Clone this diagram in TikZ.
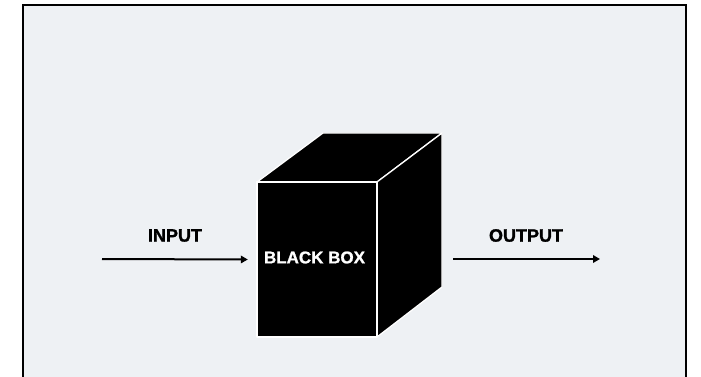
\documentclass[tikz,border=0pt]{standalone}
\usepackage{fontspec}
\setmainfont{Liberation Sans}
\newfontfamily\heavyfont[FakeBold=1.2]{Liberation Sans Bold}
\usetikzlibrary{arrows.meta}
\definecolor{bgpanel}{HTML}{EEF1F4}
\tikzset{
  lbl/.style={font=\heavyfont\fontsize{18}{20}\selectfont, text=black, inner sep=0pt},
  boxlbl/.style={font=\heavyfont\fontsize{17}{19}\selectfont, text=white, inner sep=0pt},
  face/.style={fill=black, draw=white, line width=1.3pt, line join=round},
  flow/.style={line width=2pt, -{Triangle[length=7pt,width=7.5pt]}}
}
\begin{document}
\begin{tikzpicture}[x=1pt,y=-1pt]
\useasboundingbox (0,0) rectangle (701,377);
\fill[white] (0,0) rectangle (701,377);
\fill[bgpanel] (23,5) rectangle (686,377);
\draw[line width=2pt] (23,378) -- (23,5) -- (686,5) -- (686,378);
% cube corners
\coordinate (ftl) at (257,182);
\coordinate (ftr) at (377,182);
\coordinate (fbr) at (377,337);
\coordinate (fbl) at (257,337);
\coordinate (btl) at (323,133);
\coordinate (btr) at (442,133);
\coordinate (bbr) at (442,287);
\filldraw[face] (ftl) -- (btl) -- (btr) -- (ftr) -- cycle;
\filldraw[face] (ftr) -- (btr) -- (bbr) -- (fbr) -- cycle;
\filldraw[face] (ftl) -- (ftr) -- (fbr) -- (fbl) -- cycle;
\node[minimum width=120pt, minimum height=155pt, inner sep=0pt] (front) at (317,259.5) {};
\coordinate (rside) at (442,259);
\node[boxlbl] (bb) at (314.5,257.5) {BLACK BOX};
% arrows
\coordinate (inStart) at (102,259);
\coordinate (outEnd) at (600,259);
\draw[flow] (inStart) -- ([xshift=-9pt]front.west);
\draw[flow] ([xshift=11pt]rside) -- (outEnd);
\node[lbl] (inlbl) at (175,235.5) {INPUT};
\node[lbl] (outlbl) at (526,235.5) {OUTPUT};
\end{tikzpicture}
\end{document}
